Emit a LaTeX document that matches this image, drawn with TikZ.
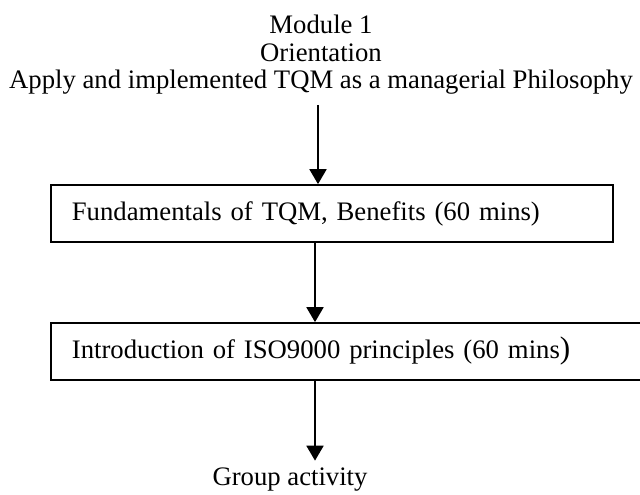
\documentclass[tikz,border=0pt]{standalone}
\usepackage{fontspec}
\setmainfont{Liberation Serif}
\usetikzlibrary{arrows.meta}
\begin{document}
\begin{tikzpicture}[x=0.4494pt,y=-0.4494pt,
  txt/.style={inner sep=0pt, anchor=base, font=\fontsize{12}{14}\selectfont},
  stage/.style={draw, line width=0.8pt, rectangle, minimum height=25.6pt,
    inner xsep=9.44pt, inner ysep=0pt, align=left, anchor=west,
    font=\fontsize{12}{14}\selectfont},
  arr/.style={line width=0.9pt, -{Triangle[length=6.7pt,width=7.6pt]}}]
\useasboundingbox (0,0) rectangle (640,495);
\node[txt] (l1) at (321,34) {Module 1};
\node[txt] (l2) at (321,62) {Orientation};
\node[txt] (l3) at (321,89) {Apply and implemented TQM as a managerial Philosophy};
\node[stage, text width=233.7pt] (b1) at (50,213.5) {Fundamentals of TQM, Benefits (60 mins)};
\node[stage, text width=255.2pt] (b2) at (50,351.5) {Introduction of ISO9000 principles (60 mins{\fontsize{14}{14}\selectfont )}};
\node[txt] (g) at (290,485) {Group activity};
\coordinate (a1) at (318,105);
\coordinate (a2) at (315,0);
\coordinate (gtop) at ([yshift=2.8pt]g.north);
\draw[arr] (a1) -- (a1 |- b1.north);
\draw[arr] (b1.south -| a2) -- (b2.north -| a2);
\draw[arr] (b2.south -| a2) -- (gtop -| a2);
\end{tikzpicture}
\end{document}
